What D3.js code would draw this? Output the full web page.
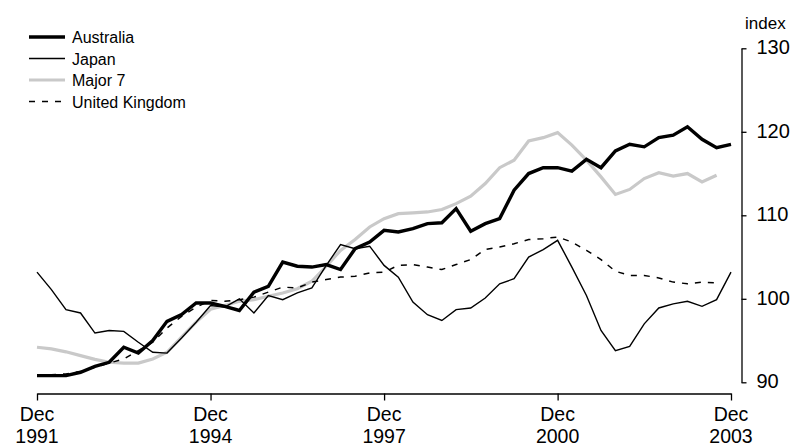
<!DOCTYPE html>
<html>
<head>
<meta charset="utf-8">
<script src="https://cdn.jsdelivr.net/npm/d3@7/dist/d3.min.js"></script>
<style>
  html, body { margin: 0; padding: 0; background: #fff; }
  svg { display: block; font-family: "Liberation Sans", Arial, sans-serif; }
</style>
</head>
<body>
<svg id="chart" width="792" height="448"></svg>
<script>
// Quarterly observations, Dec 1991 .. Dec 2003
const startQuarter = new Date(1991, 11, 1);
const quarterCount = 49;
const quarters = d3.range(quarterCount).map(i => d3.timeMonth.offset(startQuarter, 3 * i));

const seriesNames = ["Australia", "Japan", "Major 7", "United Kingdom"];

const australia = [90.8, 90.8, 90.8, 91.2, 91.9, 92.4, 94.2, 93.5, 95.0, 97.3,
  98.1, 99.5, 99.5, 99.1, 98.6, 100.8, 101.5, 104.4, 103.9, 103.8,
  104.1, 103.5, 106.0, 106.8, 108.2, 108.0, 108.4, 109.0, 109.1, 110.8,
  108.1, 109.0, 109.6, 113.0, 115.0, 115.7, 115.7, 115.3, 116.7, 115.7,
  117.7, 118.5, 118.2, 119.3, 119.6, 120.6, 119.1, 118.1, 118.5];

const japan = [103.2, 101.1, 98.7, 98.3, 95.9, 96.2, 96.1, 94.8, 93.6, 93.5,
  95.3, 97.2, 99.2, 99.0, 100.0, 98.3, 100.4, 99.9, 100.7, 101.3,
  104.0, 106.5, 106.0, 106.3, 104.0, 102.6, 99.6, 98.1, 97.4, 98.7,
  98.9, 100.1, 101.8, 102.4, 105.0, 105.9, 107.0, 103.8, 100.4, 96.2,
  93.8, 94.3, 97.0, 98.9, 99.4, 99.7, 99.1, 99.9, 103.2];

const major7 = [94.2, 94.0, 93.65, 93.2, 92.75, 92.4, 92.3, 92.3, 92.8, 93.6,
  95.4, 97.2, 98.75, 99.2, 99.7, 99.9, 100.3, 100.7, 101.2, 102.1,
  103.9, 105.8, 107.1, 108.6, 109.6, 110.2, 110.3, 110.4, 110.7, 111.4,
  112.3, 113.8, 115.7, 116.6, 118.9, 119.3, 119.9, 118.4, 116.6, 114.6,
  112.5, 113.1, 114.4, 115.1, 114.7, 115.0, 114.0, 114.8];

const unitedKingdom = [90.9, 90.9, 91.0, 91.3, 91.8, 92.3, 92.8, 93.8, 94.8, 96.5,
  97.9, 99.0, 99.8, 99.7, 99.9, 100.2, 100.8, 101.4, 101.3, 102.0,
  102.3, 102.6, 102.7, 103.1, 103.2, 104.0, 104.1, 103.8, 103.5, 104.1,
  104.7, 105.9, 106.2, 106.6, 107.1, 107.2, 107.4, 106.8, 105.8, 104.7,
  103.3, 102.8, 102.8, 102.5, 102.0, 101.8, 102.0, 101.9];

const xTickYears = [1991, 1994, 1997, 2000, 2003];
const yTicks = [90, 100, 110, 120, 130];
const yUnitLabel = "index";

// ---- layout ----
const svg = d3.select("#chart");
const x = d3.scaleTime()
  .domain([new Date(1991, 11, 1), new Date(2003, 11, 1)])
  .range([37, 731]);
const y = d3.scaleLinear().domain([90, 130]).range([382.3, 48.3]);

const styles = {
  "Australia": { stroke: "#000", width: 3.4, dash: null },
  "Japan": { stroke: "#000", width: 1.4, dash: null },
  "Major 7": { stroke: "#c9c9c9", width: 3.2, dash: null },
  "United Kingdom": { stroke: "#000", width: 1.5, dash: "6,7" }
};
const seriesData = {
  "Australia": australia,
  "Japan": japan,
  "Major 7": major7,
  "United Kingdom": unitedKingdom
};

const line = d3.line()
  .x(d => x(d.date))
  .y(d => y(d.value));

const drawOrder = ["Major 7", "United Kingdom", "Japan", "Australia"];
drawOrder.forEach(name => {
  const vals = seriesData[name].map((v, i) => ({ date: quarters[i], value: v }));
  const s = styles[name];
  svg.append("path")
    .datum(vals)
    .attr("fill", "none")
    .attr("stroke", s.stroke)
    .attr("stroke-width", s.width)
    .attr("stroke-linejoin", "miter")
    .attr("stroke-dasharray", s.dash)
    .attr("d", line);
});

// ---- x axis ----
const xAxisG = svg.append("g").attr("transform", "translate(0,393.5)");
xAxisG.call(d3.axisBottom(x)
  .tickValues(xTickYears.map(yr => new Date(yr, 11, 1)))
  .tickSize(7)
  .tickSizeOuter(0)
  .tickFormat(() => ""));
xAxisG.select(".domain").attr("stroke", "#000").attr("stroke-width", 1.3);
xAxisG.selectAll(".tick line").attr("stroke", "#000").attr("stroke-width", 1.3);

xTickYears.forEach(yr => {
  const px = x(new Date(yr, 11, 1));
  const t = svg.append("text")
    .attr("x", px)
    .attr("text-anchor", "middle")
    .attr("font-size", 19.5)
    .attr("fill", "#000");
  t.append("tspan").attr("x", px).attr("y", 421).text("Dec");
  t.append("tspan").attr("x", px).attr("y", 443).text(yr);
});

// ---- y axis (right) ----
const yAxisG = svg.append("g").attr("transform", "translate(741.5,0)");
yAxisG.call(d3.axisRight(y)
  .tickValues(yTicks)
  .tickSize(5)
  .tickSizeOuter(0)
  .tickPadding(10)
  .tickFormat(d3.format("d")));
yAxisG.select(".domain").attr("stroke", "#000").attr("stroke-width", 1.3);
yAxisG.selectAll(".tick line").attr("stroke", "#000").attr("stroke-width", 1.3);
yAxisG.selectAll(".tick text")
  .attr("font-size", 20)
  .attr("font-family", "Liberation Sans, Arial, sans-serif")
  .attr("fill", "#000")
  .attr("dy", "0.28em");

svg.append("text")
  .attr("x", 745)
  .attr("y", 29)
  .attr("font-size", 17)
  .attr("fill", "#000")
  .text(yUnitLabel);

// ---- legend ----
const legend = svg.append("g");
seriesNames.forEach((name, i) => {
  const ly = 37 + i * 21.5;
  const s = styles[name];
  legend.append("line")
    .attr("x1", 29).attr("x2", 65)
    .attr("y1", ly).attr("y2", ly)
    .attr("stroke", s.stroke)
    .attr("stroke-width", s.width)
    .attr("stroke-dasharray", s.dash);
  legend.append("text")
    .attr("x", 72)
    .attr("y", ly + 6)
    .attr("font-size", 16)
    .attr("fill", "#000")
    .text(name);
});
</script>
</body>
</html>
